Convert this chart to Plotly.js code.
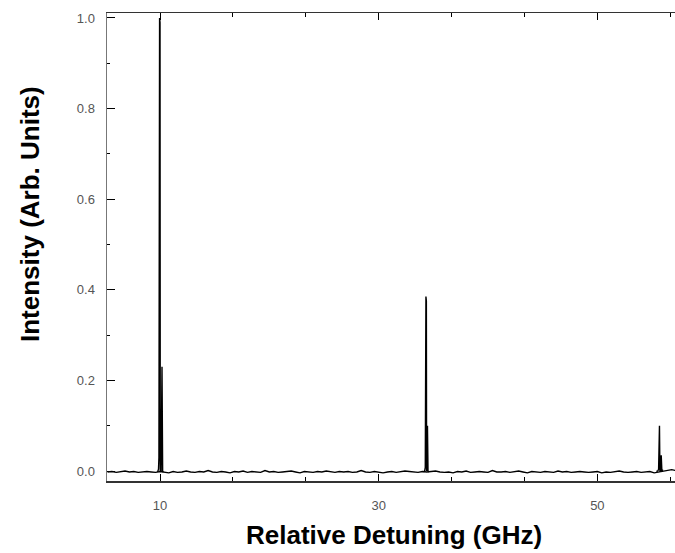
<!DOCTYPE html>
<html>
<head>
<meta charset="utf-8">
<script src="https://cdn.plot.ly/plotly-3.0.1.min.js"></script>
<style>html,body{margin:0;padding:0;background:#fff;}#chart{width:675px;height:553px;}</style>
</head>
<body>
<div id="chart"></div>
<script>
// Baseline noise, sampled from 5.2 GHz every 0.4 GHz
const baseStart = 5.2;
const baseStep = 0.4;
const baseY = [
-0.002,-0.001,-0.003,-0.002,0.000,-0.002,-0.001,-0.003,-0.002,-0.001,
-0.002,-0.003,-0.001,-0.002,-0.004,-0.001,-0.003,-0.002,0.000,-0.002,
-0.003,-0.001,-0.002,0.001,-0.002,-0.003,-0.001,-0.002,-0.004,-0.001,
-0.002,0.000,-0.003,-0.001,-0.002,-0.003,0.001,-0.002,-0.001,-0.003,
-0.002,-0.001,0.000,-0.002,-0.004,-0.001,-0.002,-0.003,-0.001,-0.002,
0.000,-0.002,-0.003,-0.001,-0.002,-0.001,-0.003,-0.002,0.001,-0.002,
-0.003,-0.001,-0.002,-0.004,-0.002,-0.001,-0.003,-0.002,0.000,-0.001,
-0.002,-0.003,-0.001,-0.002,-0.001,0.000,-0.002,-0.003,-0.002,-0.004,
-0.001,-0.002,0.000,-0.003,-0.002,-0.001,-0.002,-0.003,0.001,-0.002,
-0.002,-0.001,-0.003,-0.002,0.000,-0.002,-0.004,-0.001,-0.002,-0.003,
-0.001,-0.002,-0.003,0.000,-0.002,-0.001,-0.003,-0.002,-0.001,-0.002,
-0.003,-0.002,-0.001,-0.004,-0.002,-0.003,-0.001,0.000,-0.002,-0.003,
-0.002,-0.001,-0.003,-0.002,-0.001,-0.004,-0.002,0.000,0.002,0.003,
0.001
];

// Peaks (GHz, intensity)
const peak1X = [9.78, 9.86, 9.9, 9.92, 9.96, 10.0, 10.02, 10.1, 10.18, 10.24, 10.32];
const peak1Y = [-0.002, 0.004, 0.03, 0.99, 1.0, 0.99, 0.0, 0.0, 0.23, -0.001, -0.002];
const peak2X = [34.1, 34.2, 34.26, 34.28, 34.32, 34.36, 34.38, 34.41, 34.46, 34.51, 34.6];
const peak2Y = [-0.002, 0.0, 0.008, 0.375, 0.385, 0.375, 0.0, 0.01, 0.1, 0.0, -0.002];
const peak3X = [55.4, 55.52, 55.6, 55.64, 55.68, 55.72, 55.77, 55.84, 55.9, 56.0];
const peak3Y = [-0.001, 0.0, 0.004, 0.075, 0.1, 0.0, 0.0, 0.035, 0.0, 0.003];

const xTicks = [10, 30, 50];
const yTicks = [0.0, 0.2, 0.4, 0.6, 0.8, 1.0];
const yTickText = ['0.0', '0.2', '0.4', '0.6', '0.8', '1.0'];

const lineStyle = {color: '#000', width: 1.4};
const traces = [
  {type: 'scatter', mode: 'lines', x0: baseStart, dx: baseStep, y: baseY, line: lineStyle, hoverinfo: 'skip'},
  {type: 'scatter', mode: 'lines', x: peak1X, y: peak1Y, line: lineStyle},
  {type: 'scatter', mode: 'lines', x: peak2X, y: peak2Y, line: lineStyle},
  {type: 'scatter', mode: 'lines', x: peak3X, y: peak3Y, line: lineStyle}
];

const tickFont = {family: 'Liberation Sans, Arial, sans-serif', size: 13, color: '#555'};
const titleFont = {family: 'Liberation Sans, Arial, sans-serif', size: 26, color: '#000', weight: 'bold'};

const layout = {
  width: 675, height: 553,
  margin: {l: 107, r: 0, t: 13, b: 72},
  paper_bgcolor: '#fff', plot_bgcolor: '#fff',
  showlegend: false,
  xaxis: {
    range: [5.15, 57.1],
    tickvals: xTicks, ticktext: xTicks.map(String),
    ticks: 'inside', ticklen: 7, tickwidth: 1, tickcolor: '#000',
    minor: {tick0: 10, dtick: 20/3, ticks: 'inside', ticklen: 4, tickcolor: '#000', showgrid: false},
    showline: true, linecolor: '#333', linewidth: 1.5, mirror: 'ticks',
    showgrid: false, zeroline: false,
    tickfont: tickFont, ticklabelstandoff: 12
  },
  yaxis: {
    range: [-0.022, 1.011],
    tickvals: yTicks, ticktext: yTickText,
    ticks: 'inside', ticklen: 8, tickwidth: 1, tickcolor: '#000',
    minor: {dtick: 0.1, tick0: 0, ticks: 'inside', ticklen: 3, tickcolor: '#000', showgrid: false},
    showline: true, linecolor: '#777', linewidth: 1.5, mirror: false,
    showgrid: false, zeroline: false,
    tickfont: tickFont, ticklabelstandoff: 8
  },
  annotations: [
    {text: 'Relative Detuning (GHz)', xref: 'paper', yref: 'paper', x: 0.505, y: -0.115,
     xanchor: 'center', yanchor: 'middle', showarrow: false, font: titleFont},
    {text: 'Intensity (Arb. Units)', xref: 'paper', yref: 'paper', x: -0.1356, y: 0.5705,
     xanchor: 'center', yanchor: 'middle', textangle: -90, showarrow: false, font: titleFont}
  ]
};

Plotly.newPlot('chart', traces, layout, {displayModeBar: false, staticPlot: true});
</script>
</body>
</html>
